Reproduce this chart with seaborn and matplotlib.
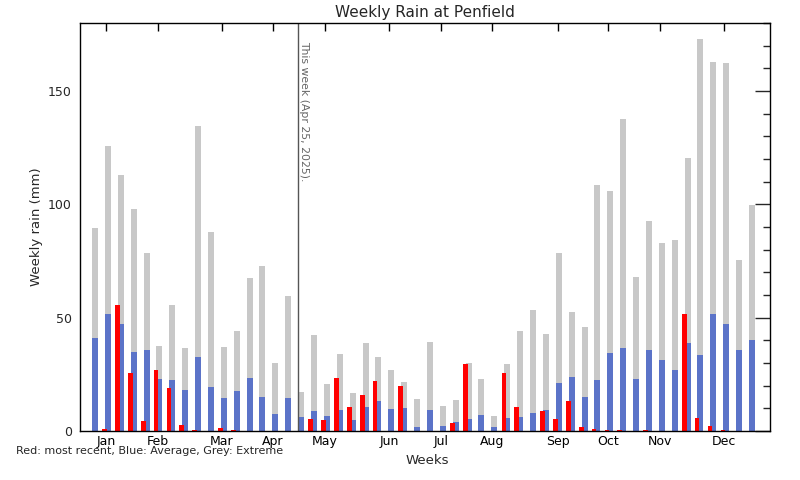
import numpy as np
import pandas as pd
import matplotlib
matplotlib.use("Agg")
import matplotlib.pyplot as plt
from matplotlib.ticker import MultipleLocator
import seaborn as sns

# weekly rain (mm), 52 weeks starting in January
weeks = np.arange(52)

extreme = [89.5, 125.8, 113.0, 97.9, 78.4, 37.7, 55.5, 36.8, 134.7, 87.7,
           37.2, 44.3, 67.5, 72.7, 30.1, 59.5, 17.3, 42.5, 20.8, 34.1,
           16.8, 39.0, 32.8, 27.0, 21.7, 14.2, 39.4, 11.1, 13.7, 30.0,
           23.0, 6.6, 29.7, 43.9, 53.2, 43.0, 78.4, 52.3, 46.1, 108.5,
           105.9, 137.8, 67.8, 92.6, 82.9, 84.2, 120.5, 172.8, 162.6, 162.2,
           75.3, 99.7]

average = [41.2, 51.4, 47.0, 35.0, 35.9, 23.0, 22.6, 18.2, 32.8, 19.5,
           14.6, 17.7, 23.5, 15.1, 7.5, 14.6, 6.2, 8.9, 6.6, 9.3,
           4.9, 10.6, 13.3, 9.7, 10.3, 1.8, 9.3, 2.2, 4.0, 5.3,
           7.1, 1.8, 5.8, 6.2, 8.0, 9.3, 21.3, 23.9, 15.1, 22.6,
           34.6, 36.8, 23.0, 35.9, 31.5, 27.0, 39.0, 33.7, 51.4, 47.0,
           35.9, 40.3]

recent = [0, 0.9, 55.8, 25.7, 4.4, 27.0, 19.0, 2.7, 0.4, 0,
          1.3, 0.4, 0, 0, 0, 0, 0, 5.3, 4.9, 23.5,
          10.6, 16.0, 22.2, 0, 19.9, 0, 0, 0, 3.5, 29.7,
          0, 0, 25.7, 10.6, 0, 8.9, 5.3, 13.3, 1.8, 0.9,
          0.4, 0.4, 0, 0.4, 0, 0, 51.8, 5.8, 2.2, 0.4,
          0, 0]

month_labels = ["Jan", "Feb", "Mar", "Apr", "May", "Jun",
                "Jul", "Aug", "Sep", "Oct", "Nov", "Dec"]
month_ticks = [0.85, 4.89, 9.86, 13.82, 17.86, 22.83,
               26.86, 30.82, 35.95, 39.83, 43.87, 48.84]
this_week = 15.79

df = pd.DataFrame({"week": weeks, "extreme": extreme,
                   "average": average, "recent": recent})
df["week_red"] = df["week"] - 0.26

sns.set_style("white")
plt.rcParams["font.family"] = ["DejaVu Sans"]

fig = plt.figure(figsize=(8, 4.8), dpi=100)
ax = fig.add_axes([80 / 800, 49 / 480, 690 / 800, 408 / 480])

sns.barplot(data=df, x="week", y="extreme", native_scale=True, width=0.465,
            color="#c8c8c8", saturation=1, linewidth=0, ax=ax)
sns.barplot(data=df, x="week", y="average", native_scale=True, width=0.465,
            color="#5b73c8", saturation=1, linewidth=0, ax=ax)
sns.barplot(data=df, x="week_red", y="recent", native_scale=True, width=0.365,
            color="#ff0000", saturation=1, linewidth=0, ax=ax)

ax.axvline(this_week, color="#555555", lw=1)
ax.text(this_week + 0.08, 172, "This week (Apr 25, 2025).", rotation=-90,
        ha="left", va="top", fontsize=7.8, color="#666666")

ax.set_xlim(-1.165, 52.4)
ax.set_ylim(0, 180)

ax.set_xticks(month_ticks)
ax.set_xticklabels(month_labels, fontsize=9)
ax.set_yticks([0, 50, 100, 150])
ax.set_yticklabels(["0", "50", "100", "150"], fontsize=9)
ax.yaxis.set_minor_locator(MultipleLocator(10))
ax.xaxis.set_minor_locator(plt.NullLocator())
ax.tick_params(axis="x", which="major", direction="in", length=5.8, width=1,
               top=True, pad=3, colors="black")
ax.tick_params(axis="y", which="major", direction="in", length=10.8, width=1,
               right=True, labelright=False, pad=6)
ax.tick_params(axis="y", which="minor", direction="in", length=5, width=1,
               right=True)

for s in ax.spines.values():
    s.set_color("black")
    s.set_linewidth(1)

ax.set_xlabel("")
ax.set_ylabel("Weekly rain (mm)", fontsize=9.5, labelpad=3.5)
ax.set_title("Weekly Rain at Penfield", fontsize=11, pad=4)
fig.text(427 / 800, 1 - 461 / 480, "Weeks", ha="center", va="center", fontsize=9.5)
fig.text(16 / 800, 1 - 451 / 480, "Red: most recent, Blue: Average, Grey: Extreme",
         ha="left", va="center", fontsize=8)

fig.savefig("out.png", dpi=100)
